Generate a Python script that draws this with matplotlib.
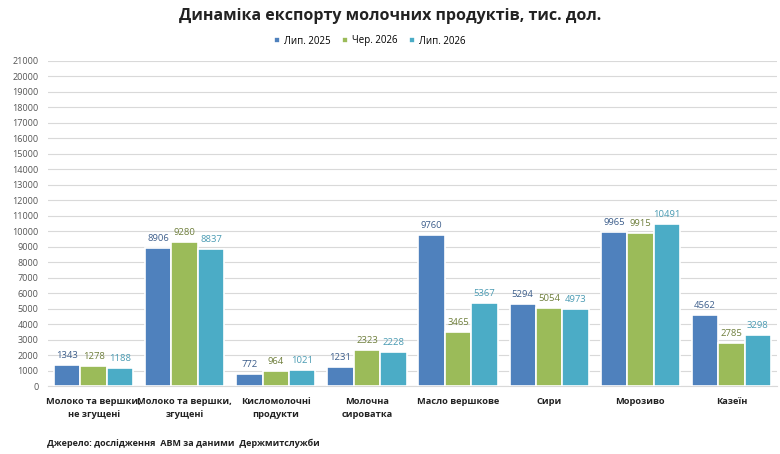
import numpy as np
import matplotlib
matplotlib.use("Agg")
import matplotlib.pyplot as plt

plt.rcParams['font.family'] = ['Open Sans', 'DejaVu Sans']

categories = ["Молоко та вершки,\nне згущені", "Молоко та вершки,\nзгущені",
              "Кисломолочні\nпродукти", "Молочна\nсироватка", "Масло вершкове",
              "Сири", "Морозиво", "Казеїн"]
series_names = ["Лип. 2025", "Чер. 2026", "Лип. 2026"]
jul_2025 = [1343, 8906, 772, 1231, 9760, 5294, 9965, 4562]
jun_2026 = [1278, 9280, 964, 2323, 3465, 5054, 9915, 2785]
jul_2026 = [1188, 8837, 1021, 2228, 5367, 4973, 10491, 3298]

bar_colors = ["#4F81BD", "#9BBB59", "#4BACC6"]
label_colors = ["#3E5F8C", "#6F7F3C", "#4A9BB3"]

fig = plt.figure(figsize=(7.8, 4.54), dpi=100)
ax = fig.add_axes([48/780, 68/454, 729/780, 325/454])

x = np.arange(len(categories))
w = 0.29
for i, (vals, name) in enumerate(zip([jul_2025, jun_2026, jul_2026], series_names)):
    pos = x + (i - 1) * w
    ax.bar(pos, vals, w, color=bar_colors[i], edgecolor="white", linewidth=1.2,
           label=name, zorder=3)
    for p, v in zip(pos, vals):
        ax.text(p, v + 320, str(v), ha="center", va="bottom", fontsize=6.8,
                color=label_colors[i])

ax.set_xlim(-0.5, len(categories) - 0.5)
ax.set_ylim(0, 21000)
ax.set_yticks(range(0, 21001, 1000))
ax.tick_params(axis="y", labelsize=6.5, colors="#555555", length=0, pad=7)
ax.set_xticks(x)
ax.set_xticklabels(categories, fontsize=6.7, fontweight="bold", color="#222222",
                   linespacing=1.5)
ax.tick_params(axis="x", length=0, pad=8)
ax.grid(axis="y", color="#D9D9D9", linewidth=0.8, zorder=0)
for s in ["top", "right", "left"]:
    ax.spines[s].set_visible(False)
ax.spines["bottom"].set_color("#D9D9D9")

fig.text(0.5, 0.965, "Динаміка експорту молочних продуктів, тис. дол.",
         ha="center", va="center", fontsize=11.5, fontweight="bold", color="#222222")
fig.legend(loc="center", bbox_to_anchor=(370/780, 1 - 41/454), ncol=3, frameon=False,
           fontsize=7, handlelength=0.6, handleheight=0.6, handletextpad=0.4,
           columnspacing=1.2)
fig.text(47/780, 1 - 443/454, "Джерело: дослідження  АВМ за даними  Держмитслужби",
         ha="left", va="center", fontsize=6.5, fontweight="bold", color="#222222")

fig.savefig("out.png", dpi=100)
